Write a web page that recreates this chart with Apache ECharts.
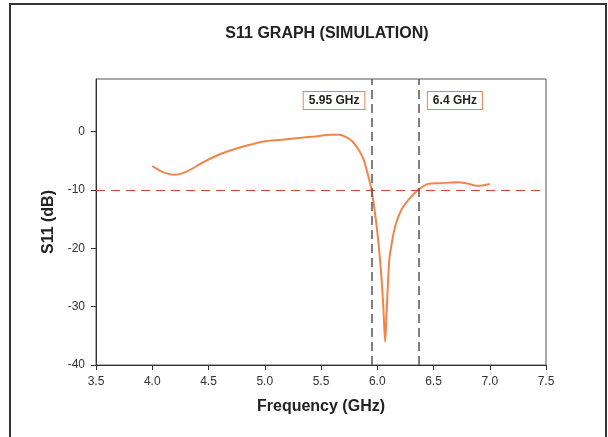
<!DOCTYPE html>
<html>
<head>
<meta charset="utf-8">
<script src="https://cdn.jsdelivr.net/npm/echarts@6/dist/echarts.min.js"></script>
<style>html,body{margin:0;padding:0;background:#fff;}#c{width:608px;height:437px;}</style>
</head>
<body>
<div id="c"></div>
<script>
const freq = [4.0, 4.05, 4.1, 4.196, 4.3, 4.45, 4.6, 4.75, 4.99, 5.15, 5.28, 5.45, 5.58, 5.66, 5.72, 5.78, 5.84, 5.88, 5.93, 5.95, 5.995, 6.03, 6.054, 6.07, 6.084, 6.107, 6.13, 6.158, 6.19, 6.23, 6.3, 6.365, 6.454, 6.558, 6.706, 6.8, 6.884, 6.95, 7.0];
const s11  = [-5.9, -6.5, -7.0, -7.4, -6.9, -5.3, -3.9, -2.9, -1.7, -1.4, -1.14, -0.85, -0.57, -0.55, -0.9, -1.7, -3.3, -4.85, -8.4, -10.0, -16.3, -23.2, -30.0, -36.0, -30.6, -22.0, -19.0, -16.3, -14.5, -12.9, -11.2, -10.0, -8.97, -8.85, -8.7, -8.9, -9.3, -9.2, -9.0];
const xTicks = [3.5, 4.0, 4.5, 5.0, 5.5, 6.0, 6.5, 7.0, 7.5];
const yTicks = [-40, -30, -20, -10, 0];
const threshold = -10;
const markers = [5.95, 6.37];
const markerLabels = ['5.95 GHz', '6.4 GHz'];
const labelPos = [[5.616, 5.3], [6.69, 5.3]];

const chart = echarts.init(document.getElementById('c'), null, {renderer: 'canvas'});
const txt = '#333';
const font = 'Liberation Sans, Arial, sans-serif';
chart.setOption({
  animation: false,
  backgroundColor: '#fff',
  textStyle: {fontFamily: font},
  title: {
    text: 'S11 GRAPH (SIMULATION)',
    left: 322, top: 21, textAlign: 'center',
    textStyle: {fontSize: 16, fontWeight: 'bold', color: '#222', fontFamily: font}
  },
  graphic: [{
    type: 'rect', shape: {x: 10, y: 4, width: 596, height: 440},
    style: {fill: 'none', stroke: '#333', lineWidth: 2}, silent: true, z: 100
  }],
  grid: {left: 96, right: 62, top: 79, bottom: 72, show: true, borderColor: '#555', borderWidth: 1, backgroundColor: 'transparent'},
  xAxis: {
    type: 'value', min: 3.5, max: 7.5, interval: 0.5,
    name: 'Frequency (GHz)', nameLocation: 'middle', nameGap: 34,
    nameTextStyle: {fontSize: 16, fontWeight: 'bold', color: '#222', fontFamily: font},
    axisLine: {show: true, onZero: false, lineStyle: {color: '#333', width: 1}},
    axisTick: {show: true, inside: false, length: 5, lineStyle: {color: '#333'}, customValues: xTicks},
    axisLabel: {fontSize: 12, color: txt, margin: 11, customValues: xTicks, formatter: v => v.toFixed(1), fontFamily: font},
    splitLine: {show: false}
  },
  yAxis: {
    type: 'value', min: -40, max: 9,
    name: 'S11 (dB)', nameLocation: 'middle', nameGap: 39,
    nameTextStyle: {fontSize: 16, fontWeight: 'bold', color: '#222', fontFamily: font},
    axisLine: {show: true, onZero: false, lineStyle: {color: '#333', width: 1}},
    axisTick: {show: true, length: 5, lineStyle: {color: '#333'}, customValues: yTicks},
    axisLabel: {fontSize: 12, color: txt, margin: 11, customValues: yTicks, fontFamily: font},
    splitLine: {show: false}
  },
  series: [{
    type: 'line',
    data: freq.map((f, i) => [f, s11[i]]),
    smooth: 0.3,
    showSymbol: false,
    lineStyle: {color: '#f0844a', width: 2},
    z: 3,
    markLine: {
      silent: true, symbol: 'none', animation: false,
      label: {show: false},
      data: [
        {yAxis: threshold, lineStyle: {color: '#d9453a', type: [9, 6], width: 1.2}},
        {xAxis: markers[0], lineStyle: {color: '#555', type: [9, 5], width: 1.5}},
        {xAxis: markers[1], lineStyle: {color: '#555', type: [9, 5], width: 1.5}}
      ]
    },
    markPoint: {
      silent: true, symbol: 'rect', symbolSize: 0,
      label: {
        show: true, position: 'inside', color: '#222', fontSize: 12, fontWeight: 'bold', fontFamily: font,
        backgroundColor: '#fff', borderColor: '#e0874f', borderWidth: 1, padding: [3, 5, 2, 5],
        formatter: p => p.name
      },
      data: markerLabels.map((n, i) => ({name: n, coord: labelPos[i], value: n}))
    }
  }]
});
</script>
</body>
</html>
